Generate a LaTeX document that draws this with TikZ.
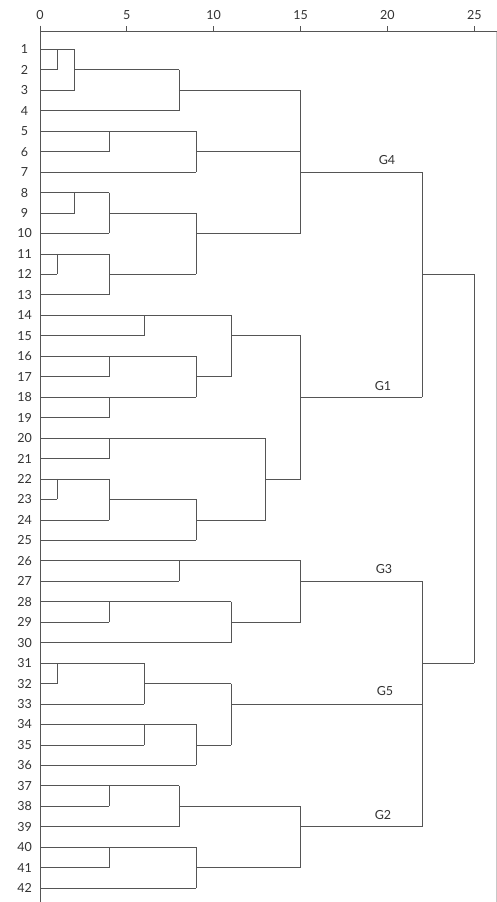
\documentclass[tikz,border=0pt]{standalone}
\usepackage{fontspec}
\setmainfont{Lato}
\definecolor{ln}{HTML}{555555}
\definecolor{tx}{HTML}{333333}
\definecolor{edge}{HTML}{C8C8C8}
\begin{document}
\begin{tikzpicture}[x=1pt,y=-1pt,
  lbl/.style={font=\fontsize{12.5}{13}\selectfont,text=tx,inner sep=0pt,anchor=center},
  tree/.style={draw=ln,line width=0.75pt},
  axisline/.style={draw=ln,line width=0.75pt}]
\useasboundingbox[fill=white] (0,0) rectangle (497,902);
% axis
\draw[axisline] (40,31.7) -- (497,31.7);
\draw[axisline] (40,25.5) -- (40,902);
\draw[draw=edge,line width=0.75pt] (496.5,31.7) -- (496.5,902);
\foreach \k in {0,5,10,15,20,25}{
  \draw[axisline] ({40+17.37*\k},31.7) -- ({40+17.37*\k},25.5);
  \node[lbl] (t\k) at ({40+17.37*\k},15.5) {\k};
}
% leaf labels
\foreach \r in {1,...,42}{
  \node[lbl] (l\r) at (24.5,{28.84+20.46*\r}) {\r};
}
% group labels
\node[lbl] (g4) at (387,160.5) {G4};
\node[lbl] (g1) at (383,386.5) {G1};
\node[lbl] (g3) at (384,569) {G3};
\node[lbl] (g5) at (385,691.5) {G5};
\node[lbl] (g2) at (383,815) {G2};
% tree
\begin{scope}[shift={(40,28.84)},x=17.37pt,y=-20.46pt]
\foreach \r/\e in {1/2,2/1,3/2,4/8,5/9,6/4,7/9,8/4,9/2,10/4,11/4,12/1,13/4,
  14/6,15/6,16/4,17/4,18/4,19/4,20/4,21/4,22/1,23/1,24/4,25/9,
  26/8,27/8,28/4,29/4,30/11,31/1,32/1,33/6,34/6,35/6,36/9,
  37/4,38/4,39/8,40/4,41/4,42/9}{
  \draw[tree] (0,\r) -- (\e,\r);
}
\foreach \x/\a/\b/\o/\p in {1/1/2/1/2, 2/1/3/2/8, 8/2/4/3/15,
  4/5/6/5/9, 9/5/7/6/15,
  2/8/9/8/4, 4/8/10/9/9, 1/11/12/11/4, 4/11/13/12/9, 9/9/12/10/15,
  15/3/10/7/22,
  6/14/15/14/11, 4/16/17/16/9, 4/18/19/18/9, 9/16/18/17/11, 11/14/17/15/15,
  4/20/21/20/13, 1/22/23/22/4, 4/22/24/23/9, 9/23/25/24/13, 13/20/24/22/15,
  15/15/22/18/22, 22/7/18/12/25,
  8/26/27/26/15, 4/28/29/28/11, 11/28/30/29/15, 15/26/29/27/22,
  1/31/32/31/6, 6/31/33/32/11, 6/34/35/34/9, 9/34/36/35/11, 11/32/35/33/22,
  4/37/38/37/8, 8/37/39/38/15, 4/40/41/40/9, 9/40/42/41/15, 15/38/41/39/22,
  22/27/39/31/25}{
  \draw[tree] (\x,\a) -- (\x,\b) (\x,\o) -- (\p,\o);
}
\draw[tree] (25,12) -- (25,31);
\end{scope}
\end{tikzpicture}
\end{document}
